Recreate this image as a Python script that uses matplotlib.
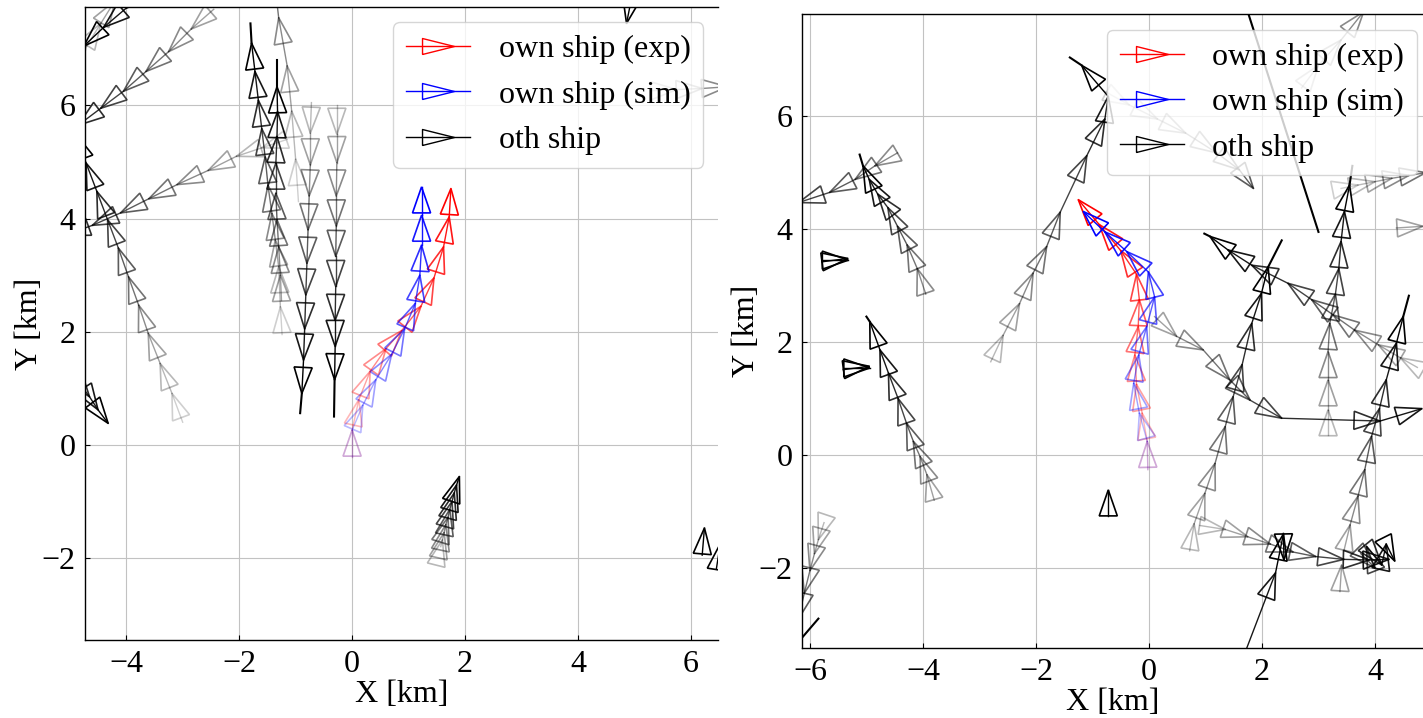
import numpy as np
import matplotlib
matplotlib.use("Agg")
import matplotlib.pyplot as plt
from matplotlib.patches import Polygon
from matplotlib.lines import Line2D

plt.rcParams["font.family"] = ["Liberation Serif", "DejaVu Serif"]
plt.rcParams["font.size"] = 23

# ---------------- data (km); first point of each track is the tail, later
# points are the ship positions (triangle tips), t0 = time step of the tail
T_LAST = 10

# left panel
left_exp = [(0.0, -0.22), (0.0, 0.26), (0.12, 0.8), (0.32, 1.3), (0.6, 1.7), (0.88, 2.02),
            (1.22, 2.45), (1.45, 2.95), (1.62, 3.5), (1.72, 4.03), (1.75, 4.53)]
left_sim = [(0.0, -0.22), (0.0, 0.26), (0.19, 0.7), (0.42, 1.15), (0.7, 1.6), (0.93, 2.05),
            (1.12, 2.5), (1.2, 3.0), (1.23, 3.53), (1.23, 4.06), (1.23, 4.56)]
left_others = [
    # (t0, track, stub end)
    (1, [(-0.72, 6.05), (-0.74, 5.51), (-0.74, 4.95), (-0.76, 4.4), (-0.78, 3.8), (-0.8, 3.21),
         (-0.82, 2.65), (-0.84, 2.05), (-0.86, 1.5), (-0.89, 0.91)], (-0.92, 0.56)),
    (1, [(-0.27, 6.0), (-0.27, 5.49), (-0.27, 4.99), (-0.28, 4.4), (-0.28, 3.87), (-0.29, 3.33),
         (-0.29, 2.8), (-0.3, 2.2), (-0.3, 1.74), (-0.31, 1.15)], (-0.32, 0.5)),
    (0, [(-1.24, 1.95), (-1.27, 2.44), (-1.3, 3.15), (-1.36, 3.62), (-1.42, 4.09), (-1.49, 4.59),
         (-1.54, 5.09), (-1.6, 5.59), (-1.66, 6.09), (-1.72, 6.6), (-1.78, 7.1)], (-1.8, 7.45)),
    (2, [(-1.25, 2.55), (-1.27, 3.0), (-1.3, 3.5), (-1.33, 3.98), (-1.35, 4.45), (-1.35, 4.98),
         (-1.33, 5.45), (-1.32, 5.89), (-1.33, 6.33)], (-1.33, 6.8)),
    (0, [(-0.95, 4.3), (-1.0, 5.05), (-1.07, 5.9), (-1.15, 6.7), (-1.3, 7.55), (-1.4, 8.4)], None),
    (0, [(-3.0, 0.4), (-3.19, 0.91), (-3.4, 1.44), (-3.61, 1.97), (-3.78, 2.47), (-3.96, 2.97),
         (-4.14, 3.48), (-4.33, 3.98), (-4.52, 4.48), (-4.71, 4.98), (-4.9, 5.5)], None),
    (0, [(-1.15, 5.4), (-1.6, 5.25), (-2.05, 5.1), (-2.55, 4.85), (-3.1, 4.6), (-3.6, 4.35),
         (-4.1, 4.1), (-4.6, 3.88), (-5.1, 3.7)], None),
    (2, [(-2.45, 7.7), (-2.85, 7.35), (-3.25, 6.95), (-3.65, 6.6), (-4.05, 6.25), (-4.45, 5.95),
         (-4.85, 5.65)], None),
    (7, [(-3.6, 8.05), (-4.0, 7.72), (-4.4, 7.38), (-4.75, 7.05)], None),
    (0, [(-4.95, 6.7), (-4.7, 7.05), (-4.45, 7.45), (-4.2, 7.85)], None),
    (6, [(-4.95, 1.25), (-4.8, 1.05), (-4.65, 0.85), (-4.5, 0.62), (-4.32, 0.38)], None),
    (1, [(1.57, -1.8), (1.6, -1.68), (1.63, -1.55), (1.66, -1.41), (1.7, -1.28), (1.73, -1.14),
         (1.77, -1.0), (1.81, -0.85), (1.85, -0.71), (1.9, -0.56)], None),
    (9, [(6.2, -1.95), (6.24, -1.47)], None),
    (9, [(6.45, -2.2), (6.52, -1.75)], None),
    (9, [(5.05, 8.4), (4.86, 7.45)], None),
    (1, [(5.3, 6.26), (5.75, 6.28), (6.2, 6.3), (6.65, 6.33)], None),
]

# right panel
right_exp = [(-0.02, -0.26), (-0.03, 0.24), (-0.12, 0.74), (-0.22, 1.25), (-0.25, 1.77),
             (-0.19, 2.27), (-0.17, 2.75), (-0.22, 3.2), (-0.5, 3.62), (-0.88, 4.08), (-1.25, 4.52)]
right_sim = [(-0.02, -0.26), (-0.03, 0.24), (-0.17, 0.74), (-0.27, 1.27), (-0.18, 1.77),
             (-0.04, 2.27), (0.1, 2.8), (-0.01, 3.24), (-0.39, 3.6), (-0.78, 3.95), (-1.16, 4.31)]
right_others = [
    (1, [(-2.8, 1.65), (-2.58, 2.12), (-2.29, 2.68), (-2.05, 3.22), (-1.81, 3.69), (-1.57, 4.3),
         (-1.1, 5.3), (-0.78, 5.95), (-0.72, 6.35), (-1.19, 6.9)], (-1.4, 7.04)),
    (0, [(1.7, 8.0)], (3.0, 3.95)),
    (1, [(3.17, 0.35), (3.17, 0.8), (3.17, 1.33), (3.17, 1.83), (3.2, 2.33), (3.3, 2.85),
         (3.36, 3.3), (3.4, 3.78), (3.46, 4.31), (3.55, 4.78)], (3.6, 5.12)),
    (2, [(3.45, -1.7), (3.56, -1.24), (3.7, -0.73), (3.82, -0.26), (3.94, 0.33), (4.08, 0.82),
         (4.2, 1.33), (4.38, 1.98), (4.5, 2.45)], (4.6, 2.82)),
    (1, [(0.9, -1.25), (1.35, -1.32), (1.75, -1.45), (2.15, -1.58), (2.55, -1.72), (2.95, -1.8),
         (3.45, -1.85), (3.9, -1.86), (4.25, -1.85)], None),
    (8, [(1.72, -3.45), (2.24, -2.09), (2.38, -1.4)], None),
    (9, [(2.38, -1.39), (2.39, -1.86)], None),
    (1, [(0.72, -1.7), (0.8, -1.22), (0.99, -0.68), (1.17, -0.15), (1.35, 0.5), (1.49, 1.03),
         (1.65, 1.6), (1.82, 2.33), (1.99, 2.86), (2.11, 3.33)], (2.35, 3.8)),
    (1, [(4.75, 1.55), (4.45, 1.72), (4.06, 1.95), (3.64, 2.21), (3.26, 2.48), (2.88, 2.75),
         (2.46, 3.04), (1.82, 3.36), (1.4, 3.63), (1.08, 3.87)], (0.98, 3.92)),
    (2, [(0.1, 2.45), (0.49, 2.1), (0.96, 1.86), (1.43, 1.33), (1.79, 0.97), (2.35, 0.65),
         (4.09, 0.6), (4.83, 0.82)], None),
    (3, [(-4.45, 5.35), (-4.85, 5.12), (-5.2, 4.88), (-5.65, 4.65), (-6.2, 4.47), (-6.75, 4.3)], None),
    (3, [(-3.95, 2.85), (-4.1, 3.3), (-4.28, 3.72), (-4.45, 4.05), (-4.62, 4.38), (-4.8, 4.62),
         (-4.95, 4.88), (-5.06, 5.12)], (-5.12, 5.32)),
    (2, [(-3.8, -0.8), (-3.93, -0.35), (-4.05, -0.03), (-4.17, 0.24), (-4.29, 0.56), (-4.44, 1.0),
         (-4.61, 1.45), (-4.76, 1.86), (-4.94, 2.36)], (-5.0, 2.45)),
    (9, [(-5.79, 3.45), (-5.32, 3.45)], None),
    (9, [(-5.79, 3.42), (-5.33, 3.48)], None),
    (9, [(-5.41, 1.54), (-4.94, 1.54)], None),
    (9, [(-5.41, 1.51), (-4.95, 1.57)], None),
    (9, [(-0.72, -1.09), (-0.72, -0.62)], None),
    (1, [(-5.75, -1.2), (-5.85, -1.5), (-5.92, -1.75), (-6.0, -2.05), (-6.1, -2.45), (-6.2, -2.9)], None),
    (0, [(-6.15, -3.25)], (-5.85, -2.9)),
    (0, [(3.4, 4.72), (3.7, 4.78), (4.0, 4.84), (4.3, 4.9), (4.6, 4.95), (4.9, 5.0)], None),
    (0, [(-0.8, 6.45), (-0.35, 6.2), (0.15, 5.95), (0.65, 5.7), (1.2, 5.35), (1.6, 5.05), (1.85, 4.72)], None),
    (1, [(2.7, 6.5), (3.0, 6.9), (3.4, 7.35), (3.8, 7.85)], None),
    (2, [(4.38, 4.02), (4.85, 4.05)], None),
    (2, [(3.38, -2.42), (3.41, -1.95)], None),
    (5, [(3.75, -1.75), (4.0, -2.0), (3.85, -1.62), (4.12, -1.95), (4.2, -1.58), (4.35, -1.88)], None),
]

left_xlim, left_ylim = (-4.73, 6.48), (-3.45, 7.74)
right_xlim, right_ylim = (-6.14, 4.85), (-3.42, 7.81)
left_xticks, right_xticks = [-4, -2, 0, 2, 4, 6], [-6, -4, -2, 0, 2, 4]
yticks = [-2, 0, 2, 4, 6]
labels = ["own ship (exp)", "own ship (sim)", "oth ship"]

# ---------------- drawing
TRI_LEN, TRI_HALF = 0.46, 0.16


def fade(t):
    return float(np.clip(0.1 + 0.9 * t / T_LAST, 0.05, 1.0))


def draw_ship(ax, track, t0, color, stub=None, z=2):
    pts = np.asarray(track, dtype=float)
    for i in range(1, len(pts)):
        a = fade(t0 + i)
        d = pts[i] - pts[i - 1]
        d = d / np.hypot(d[0], d[1])
        n = np.array([-d[1], d[0]])
        base = pts[i] - TRI_LEN * d
        tri = np.array([pts[i], base + TRI_HALF * n, base - TRI_HALF * n])
        ax.add_patch(Polygon(tri, closed=True, fill=False, edgecolor=color,
                             alpha=a, lw=1.2, zorder=z))
        ax.plot(pts[i - 1:i + 1, 0], pts[i - 1:i + 1, 1], color=color,
                alpha=a, lw=1.0, zorder=z)
    if stub is not None:
        ax.plot([pts[-1, 0], stub[0]], [pts[-1, 1], stub[1]], color=color,
                lw=1.5, zorder=z)


legend_marker = [(-1, -0.5), (1, 0), (-1, 0.5), (-1, -0.5)]


def setup(ax, xlim, ylim, xticks, legend_anchor):
    ax.set_xlim(*xlim)
    ax.set_ylim(*ylim)
    ax.set_xticks(xticks)
    ax.set_yticks(yticks)
    ax.grid(True, color="0.76", lw=0.8, zorder=0)
    ax.set_axisbelow(True)
    ax.tick_params(direction="in", length=3.5, width=0.8, pad=7, labelsize=23)
    ax.spines["right"].set_visible(False)
    for s in ("left", "bottom", "top"):
        ax.spines[s].set_linewidth(1.0)
    ax.set_xlabel("X [km]", fontsize=23, labelpad=1)
    ax.set_ylabel("Y [km]", fontsize=23, labelpad=-2)
    handles = [Line2D([], [], color=c, lw=1.0, marker=legend_marker, markersize=23,
                      markerfacecolor="none", markeredgecolor=c, markeredgewidth=1.0)
               for c in ("red", "blue", "black")]
    ax.legend(handles, labels, loc="upper left", bbox_to_anchor=legend_anchor,
              borderaxespad=0, numpoints=1, fontsize=23, handlelength=2.0,
              handletextpad=0.9, labelspacing=0.5, borderpad=0.4, framealpha=0.8)


fig = plt.figure(figsize=(14.23, 7.18), dpi=100)
ax1 = fig.add_axes([85 / 1423, 78 / 718, 633 / 1423, 633 / 718])
ax2 = fig.add_axes([802 / 1423, 70 / 718, 621 / 1423, 634 / 718])

for t0, tr, stub in left_others:
    draw_ship(ax1, tr, t0, "black", stub)
draw_ship(ax1, left_exp, 0, "red", z=3)
draw_ship(ax1, left_sim, 0, "blue", z=3)

for t0, tr, stub in right_others:
    draw_ship(ax2, tr, t0, "black", stub)
draw_ship(ax2, right_exp, 0, "red", z=3)
draw_ship(ax2, right_sim, 0, "blue", z=3)

setup(ax1, left_xlim, left_ylim, left_xticks, (0.487, 0.976))
setup(ax2, right_xlim, right_ylim, right_xticks, (0.491, 0.975))

fig.savefig("out.png", dpi=100)
